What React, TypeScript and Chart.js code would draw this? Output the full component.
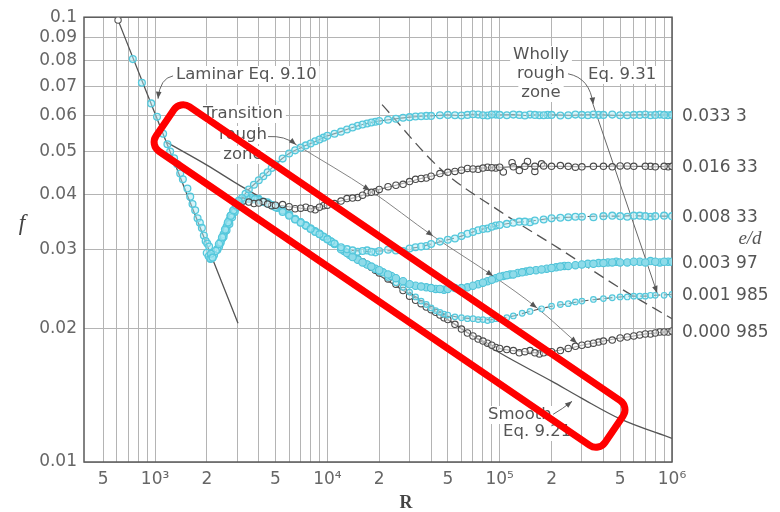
import React, { useEffect, useRef } from 'react';
import { Chart, registerables } from 'chart.js';

Chart.register(...registerables);

// ---------- axes ----------
const xTickValues = [500, 600, 700, 800, 900, 1000, 2000, 3000, 4000, 5000, 6000, 7000, 8000, 9000, 10000, 20000, 30000, 40000, 50000, 60000, 70000, 80000, 90000, 100000, 200000, 300000, 400000, 500000, 600000, 700000, 800000, 900000, 1000000];
const xTickLabels = ['5', '', '', '', '', '10³', '2', '', '', '5', '', '', '', '', '10⁴', '2', '', '', '5', '', '', '', '', '10⁵', '2', '', '', '5', '', '', '', '', '10⁶'];
const yTickValues = [0.01, 0.02, 0.03, 0.04, 0.05, 0.06, 0.07, 0.08, 0.09, 0.1];
const yTickLabels = ['0.01', '0.02', '0.03', '0.04', '0.05', '0.06', '0.07', '0.08', '0.09', '0.1'];
const edLabels = ['0.033 3', '0.016 33', '0.008 33', '0.003 97', '0.001 985', '0.000 985'];

// ---------- lines ----------
const lamLineR = [610, 3030];
const lamLineF = [0.0985, 0.0205];
const smoothR = [1150, 2000, 3000, 5000, 10000, 20000, 30000, 50000, 100000, 200000, 300000, 500000, 1000000];
const smoothF = [0.0525, 0.0465, 0.0422, 0.0376, 0.0316, 0.0263, 0.0238, 0.0209, 0.0176, 0.0152, 0.0139, 0.0125, 0.0113];
const bndR = [6580, 17700, 41070, 91600, 164800, 281000];
const bndF = [0.0517, 0.0408, 0.0322, 0.0262, 0.0222, 0.0185];
const dashR = [20770, 45080, 100500, 224100, 499700, 1000000];
const dashF = [0.0636, 0.0457, 0.0366, 0.0301, 0.0246, 0.021];
const eq931R = [348600, 819600];
const eq931F = [0.0636, 0.024];

// ---------- data points ----------
const lamR = [743, 839, 950, 1027, 1114, 1180, 1224, 1290, 1346, 1400, 1450, 1541, 1600, 1650, 1710, 1765, 1820, 1870, 1920, 1966, 2010, 2060, 2110, 2161];
const lamF = [0.0805, 0.0712, 0.064, 0.0597, 0.0547, 0.0518, 0.0499, 0.0482, 0.0467, 0.0445, 0.0432, 0.0412, 0.0395, 0.038, 0.0368, 0.0353, 0.0345, 0.0336, 0.0323, 0.0314, 0.031, 0.0305, 0.0294, 0.0288];
const transR = [2000, 2050, 2100, 2150, 2250, 2350, 2450, 2550, 2650, 2750, 2850, 2950, 3050];
const transF = [0.0295, 0.029, 0.0287, 0.0289, 0.0298, 0.0309, 0.032, 0.0333, 0.0346, 0.0358, 0.0368, 0.0378, 0.0386];

const aR = [2200, 2400, 2600, 2800, 3000, 3200, 3500, 4000, 4500, 5000, 6000, 7000, 8000, 9000, 10000, 12000, 14000, 16000, 18000, 20000, 25000, 30000, 35000, 40000, 50000, 60000, 70000, 80000, 90000, 100000, 120000, 140000, 160000, 180000, 200000, 250000, 300000, 350000, 400000, 500000, 600000, 700000, 800000, 900000, 1000000];
const aF = [0.0292, 0.0311, 0.0332, 0.0355, 0.0374, 0.0392, 0.041, 0.043, 0.0448, 0.0467, 0.0494, 0.0509, 0.052, 0.0531, 0.0541, 0.0553, 0.0565, 0.0574, 0.058, 0.0584, 0.0591, 0.0596, 0.0599, 0.06, 0.0603, 0.0601, 0.0605, 0.0602, 0.0604, 0.0603, 0.0604, 0.0601, 0.0603, 0.0602, 0.0603, 0.0602, 0.0603, 0.0604, 0.0603, 0.0602, 0.0603, 0.0604, 0.0603, 0.0603, 0.0603];
const aExtraR = [2100, 2300, 2500, 2700, 2900, 3100, 3350, 3750, 4250, 4750, 5500, 6500, 7500, 8500, 9500, 11000, 13000, 15000, 17000, 19000, 22500, 27500, 32500, 37500, 45000, 55000, 65000, 75000, 85000, 95000, 110000, 130000, 150000, 170000, 190000, 225000, 275000, 325000, 375000, 450000, 550000, 650000, 750000, 850000, 950000];
const aExtraF = [0.0286, 0.0301, 0.0321, 0.0343, 0.0365, 0.0383, 0.0401, 0.042, 0.0439, 0.0458, 0.0481, 0.0502, 0.0515, 0.0526, 0.0536, 0.0547, 0.0559, 0.057, 0.0577, 0.0582, 0.0588, 0.0594, 0.0598, 0.06, 0.0602, 0.0602, 0.0603, 0.0604, 0.0601, 0.0604, 0.0602, 0.0603, 0.0604, 0.0602, 0.0603, 0.0601, 0.0604, 0.0602, 0.0603, 0.0604, 0.0602, 0.0603, 0.0602, 0.0604, 0.0602];

const bR = [3000, 3500, 4000, 4500, 5000, 6000, 7000, 8000, 9000, 10000, 12000, 14000, 16000, 18000, 20000, 25000, 30000, 35000, 40000, 50000, 60000, 70000, 80000, 90000, 100000, 120000, 140000, 160000, 180000, 200000, 250000, 300000, 350000, 400000, 500000, 600000, 700000, 800000, 900000, 1000000];
const bF = [0.0382, 0.0384, 0.0382, 0.038, 0.0378, 0.0375, 0.0372, 0.0371, 0.0374, 0.0378, 0.0386, 0.0392, 0.0398, 0.0404, 0.041, 0.0419, 0.0427, 0.0434, 0.0439, 0.0448, 0.0453, 0.0456, 0.0458, 0.0459, 0.046, 0.0461, 0.0462, 0.0462, 0.0463, 0.0462, 0.0462, 0.0461, 0.0462, 0.0462, 0.0463, 0.0462, 0.0462, 0.0461, 0.0462, 0.0462];
const bExtraR = [3250, 3750, 4250, 4750, 5500, 6500, 7500, 8500, 9500, 11000, 13000, 15000, 17000, 19000, 22500, 27500, 32500, 37500, 45000, 55000, 65000, 75000, 85000, 95000, 105000, 118000, 130000, 145000, 160000, 175000, 225000, 275000, 450000, 550000, 750000, 950000];
const bExtraF = [0.0386, 0.0381, 0.0385, 0.0377, 0.0379, 0.0371, 0.0374, 0.0369, 0.0377, 0.0381, 0.0391, 0.0393, 0.0403, 0.0405, 0.0416, 0.0421, 0.0432, 0.0435, 0.0445, 0.045, 0.0457, 0.0455, 0.046, 0.0458, 0.0449, 0.0471, 0.0452, 0.0474, 0.045, 0.0468, 0.0464, 0.046, 0.0461, 0.0463, 0.0462, 0.0461];

const cR = [2300, 2500, 2700, 2900, 3100, 3400, 3800, 4200, 5000, 5500, 6000, 7000, 8000, 9000, 10000, 11000, 12000, 14000, 16000, 18000, 20000, 25000, 30000, 35000, 40000, 50000, 60000, 70000, 80000, 90000, 100000, 120000, 140000, 160000, 200000, 250000, 300000, 400000, 500000, 600000, 700000, 800000, 1000000];
const cF = [0.03, 0.0325, 0.035, 0.0368, 0.0383, 0.0392, 0.039, 0.0385, 0.0374, 0.0365, 0.0358, 0.0345, 0.0334, 0.0325, 0.0317, 0.031, 0.0304, 0.0299, 0.0298, 0.0297, 0.0298, 0.0299, 0.0302, 0.0305, 0.0309, 0.0316, 0.0322, 0.0329, 0.0334, 0.0338, 0.0341, 0.0345, 0.0347, 0.0349, 0.0353, 0.0355, 0.0356, 0.0357, 0.0357, 0.0358, 0.0357, 0.0357, 0.0357];
const cExtraR = [2400, 2600, 2800, 3250, 3600, 4600, 6500, 7500, 8500, 9500, 10500, 13000, 15000, 17000, 19000, 22500, 27500, 32500, 37500, 45000, 55000, 65000, 75000, 85000, 95000, 110000, 130000, 150000, 180000, 225000, 275000, 350000, 450000, 550000, 650000, 750000, 900000];
const cExtraF = [0.0312, 0.0338, 0.036, 0.0389, 0.0393, 0.038, 0.0351, 0.034, 0.0329, 0.0321, 0.0313, 0.0301, 0.0297, 0.0299, 0.0296, 0.03, 0.0298, 0.0304, 0.0306, 0.0313, 0.0318, 0.0326, 0.0332, 0.0335, 0.034, 0.0343, 0.0347, 0.0346, 0.0351, 0.0354, 0.0356, 0.0355, 0.0358, 0.0356, 0.0358, 0.0356, 0.0358];

const dR = [2350, 2550, 2750, 3000, 3300, 3700, 4300, 4800, 5500, 6500, 7500, 8500, 9500, 10500, 12000, 13000, 14000, 16000, 18000, 20000, 22500, 25000, 30000, 35000, 40000, 45000, 50000, 60000, 70000, 80000, 90000, 100000, 110000, 120000, 135000, 150000, 175000, 200000, 225000, 250000, 300000, 350000, 400000, 450000, 500000, 600000, 700000, 800000, 900000, 1000000];
const dF = [0.0305, 0.033, 0.0358, 0.0378, 0.0388, 0.039, 0.0384, 0.0378, 0.0368, 0.0352, 0.034, 0.033, 0.0321, 0.0313, 0.0301, 0.0295, 0.0289, 0.0281, 0.0275, 0.027, 0.0264, 0.0259, 0.0251, 0.0248, 0.0246, 0.0245, 0.0245, 0.0246, 0.0249, 0.0253, 0.0257, 0.0261, 0.0263, 0.0264, 0.0267, 0.0269, 0.0271, 0.0273, 0.0275, 0.0276, 0.0278, 0.0279, 0.028, 0.0281, 0.0281, 0.0282, 0.0281, 0.0282, 0.0282, 0.0282];
const dExtraR = [2450, 2650, 2850, 3150, 3500, 4000, 4550, 5100, 6000, 7000, 8000, 9000, 10000, 11000, 12500, 13500, 15000, 17000, 19000, 21000, 23500, 27500, 32500, 37500, 42500, 47500, 55000, 65000, 75000, 85000, 95000, 105000, 115000, 127500, 142500, 162500, 187500, 212500, 237500, 275000, 325000, 375000, 425000, 475000, 550000, 650000, 750000, 850000, 950000];
const dExtraF = [0.0318, 0.0344, 0.0367, 0.0384, 0.039, 0.0388, 0.0381, 0.0373, 0.036, 0.0346, 0.0335, 0.0326, 0.0317, 0.0309, 0.0298, 0.0292, 0.0285, 0.0278, 0.0272, 0.0267, 0.0262, 0.0255, 0.0249, 0.0247, 0.0245, 0.0244, 0.0246, 0.0247, 0.0251, 0.0255, 0.0259, 0.0262, 0.0264, 0.0266, 0.0268, 0.027, 0.0272, 0.0274, 0.0276, 0.0277, 0.0279, 0.028, 0.0281, 0.0282, 0.0281, 0.0282, 0.0283, 0.0281, 0.0282];

const eR = [2450, 2650, 3100, 3600, 4000, 5000, 6000, 7000, 8000, 10000, 12000, 14000, 16000, 18000, 20000, 25000, 30000, 35000, 40000, 45000, 50000, 60000, 70000, 80000, 90000, 100000, 120000, 150000, 200000, 250000, 300000, 400000, 500000, 600000, 700000, 800000, 1000000];
const eF = [0.0318, 0.0342, 0.038, 0.0392, 0.0392, 0.0376, 0.036, 0.0347, 0.0335, 0.0317, 0.0302, 0.0291, 0.0282, 0.0275, 0.0268, 0.0253, 0.0241, 0.023, 0.0222, 0.0217, 0.0214, 0.0211, 0.021, 0.0209, 0.0209, 0.021, 0.0213, 0.0218, 0.0224, 0.0227, 0.023, 0.0233, 0.0235, 0.0236, 0.0236, 0.0237, 0.0238];
const eExtraR = [2550, 2850, 3350, 4500, 5500, 6500, 7500, 9000, 11000, 13000, 15000, 17000, 19000, 22500, 27500, 32500, 37500, 42500, 47500, 55000, 65000, 75000, 85000, 95000, 110000, 135000, 175000, 225000, 275000, 350000, 450000, 550000, 650000, 750000, 900000];
const eExtraF = [0.033, 0.0362, 0.0388, 0.0385, 0.0367, 0.0353, 0.0341, 0.0326, 0.031, 0.0296, 0.0286, 0.0278, 0.0271, 0.026, 0.0247, 0.0235, 0.0226, 0.0219, 0.0215, 0.0212, 0.021, 0.0209, 0.0208, 0.021, 0.0211, 0.0216, 0.0221, 0.0226, 0.0229, 0.0232, 0.0234, 0.0235, 0.0236, 0.0237, 0.0237];

const fR = [14000, 16000, 18000, 20000, 25000, 30000, 35000, 40000, 45000, 50000, 60000, 70000, 80000, 90000, 100000, 120000, 140000, 160000, 180000, 200000, 250000, 300000, 350000, 400000, 500000, 600000, 700000, 800000, 900000, 1000000];
const fF = [0.029, 0.0282, 0.0274, 0.0266, 0.0251, 0.0236, 0.0227, 0.022, 0.0214, 0.0209, 0.0199, 0.0192, 0.0187, 0.0183, 0.018, 0.0178, 0.0177, 0.0176, 0.0176, 0.0177, 0.018, 0.0183, 0.0185, 0.0187, 0.019, 0.0192, 0.0194, 0.0195, 0.0196, 0.0197];
const fExtraR = [15000, 17000, 19000, 22500, 27500, 32500, 37500, 42500, 47500, 55000, 65000, 75000, 85000, 95000, 110000, 130000, 150000, 170000, 190000, 225000, 275000, 325000, 375000, 450000, 550000, 650000, 750000, 850000, 950000];
const fExtraF = [0.0286, 0.0278, 0.027, 0.0258, 0.0243, 0.0231, 0.0223, 0.0217, 0.0211, 0.0204, 0.0195, 0.0189, 0.0185, 0.0181, 0.0179, 0.0176, 0.0178, 0.0175, 0.0177, 0.0178, 0.0182, 0.0184, 0.0186, 0.0188, 0.0191, 0.0193, 0.0194, 0.0196, 0.0196];

// ---------- annotation anchors (data units) ----------
const lamLeaderR = [1272, 1069, 1041];
const lamLeaderF = [0.0738, 0.073, 0.0656];
const trLeaderR = [4528, 5682, 6580];
const trLeaderF = [0.0539, 0.0542, 0.0517];
const wrLeaderR = [249400, 334700, 348600];
const wrLeaderF = [0.0746, 0.073, 0.0636];
const smLeaderR = [204200, 230000, 263000];
const smLeaderF = [0.0128, 0.01314, 0.01369];
const boxR = [1143, 461000];
const boxF = [0.0579, 0.01185];

const CYAN = '#55c8dc';
const CYAN_FILL = 'rgba(175,234,244,0.5)';
const DARK = '#4a4a4a';
const DARK_FILL = 'rgba(255,255,255,0.5)';
const GRID = '#b4b4b4';
const TXT = '#555';
const LABEL_FONT = '16.5px "DejaVu Sans"';

const plotTexts = [
  { text: 'Laminar Eq. 9.10', x: 176, y: 75, align: 'left' },
  { text: 'Transition', x: 243, y: 114, align: 'center' },
  { text: 'rough', x: 243, y: 135, align: 'center' },
  { text: 'zone', x: 243, y: 155, align: 'center' },
  { text: 'Wholly', x: 541, y: 55, align: 'center' },
  { text: 'rough', x: 541, y: 74, align: 'center' },
  { text: 'zone', x: 541, y: 93, align: 'center' },
  { text: 'Eq. 9.31', x: 588, y: 75, align: 'left' },
  { text: 'Smooth', x: 488, y: 415, align: 'left' },
  { text: 'Eq. 9.21', x: 503, y: 432, align: 'left' },
];

function arrowHead(ctx: CanvasRenderingContext2D, x0: number, y0: number, x1: number, y1: number, len = 7, half = 2.8) {
  const a = Math.atan2(y1 - y0, x1 - x0);
  ctx.beginPath();
  ctx.moveTo(x1, y1);
  ctx.lineTo(x1 - len * Math.cos(a) + half * Math.sin(a), y1 - len * Math.sin(a) - half * Math.cos(a));
  ctx.lineTo(x1 - len * Math.cos(a) - half * Math.sin(a), y1 - len * Math.sin(a) + half * Math.cos(a));
  ctx.closePath();
  ctx.fill();
}

function roundRectPath(ctx: CanvasRenderingContext2D, x: number, y: number, w: number, h: number, r: number) {
  ctx.beginPath();
  ctx.moveTo(x + r, y);
  ctx.lineTo(x + w - r, y);
  ctx.arcTo(x + w, y, x + w, y + r, r);
  ctx.lineTo(x + w, y + h - r);
  ctx.arcTo(x + w, y + h, x + w - r, y + h, r);
  ctx.lineTo(x + r, y + h);
  ctx.arcTo(x, y + h, x, y + h - r, r);
  ctx.lineTo(x, y + r);
  ctx.arcTo(x, y, x + r, y, r);
  ctx.closePath();
}

const annot = {
  id: 'annot',
  beforeDatasetsDraw(chart: any) {
    const { ctx, chartArea: a } = chart;
    ctx.save();
    ctx.font = LABEL_FONT;
    ctx.fillStyle = '#fff';
    for (const t of plotTexts) {
      const w = ctx.measureText(t.text).width;
      const x0 = t.align === 'center' ? t.x - w / 2 : t.x;
      ctx.fillRect(x0 - 3, t.y - 9, w + 6, 18);
    }
    ctx.strokeStyle = '#5a5a5a';
    ctx.lineWidth = 1.5;
    ctx.strokeRect(a.left, a.top, a.right - a.left, a.bottom - a.top);
    ctx.restore();
  },
  afterDatasetsDraw(chart: any) {
    const { ctx } = chart;
    const xs = chart.scales.x;
    const ys = chart.scales.y;
    const px = (r: number) => xs.getPixelForValue(r);
    const py = (f: number) => ys.getPixelForValue(f);
    ctx.save();
    ctx.font = LABEL_FONT;
    ctx.fillStyle = TXT;
    ctx.textBaseline = 'middle';
    for (const t of plotTexts) {
      ctx.textAlign = t.align as CanvasTextAlign;
      ctx.fillText(t.text, t.x, t.y);
    }
    ctx.strokeStyle = '#666';
    ctx.fillStyle = '#555';
    ctx.lineWidth = 1;
    const leaders = [
      [lamLeaderR, lamLeaderF],
      [trLeaderR, trLeaderF],
      [wrLeaderR, wrLeaderF],
      [smLeaderR, smLeaderF],
    ];
    for (const [R, F] of leaders) {
      const x0 = px(R[0]), y0 = py(F[0]);
      const cx = px(R[1]), cy = py(F[1]);
      const x1 = px(R[2]), y1 = py(F[2]);
      ctx.beginPath();
      ctx.moveTo(x0, y0);
      ctx.quadraticCurveTo(cx, cy, x1, y1);
      ctx.stroke();
      arrowHead(ctx, cx, cy, x1, y1);
    }
    for (let i = 1; i < bndR.length; i++) {
      arrowHead(ctx, px(bndR[i - 1]), py(bndF[i - 1]), px(bndR[i]), py(bndF[i]));
    }
    arrowHead(ctx, px(eq931R[0]), py(eq931F[0]), px(eq931R[1]), py(eq931F[1]));

    ctx.font = '17px "DejaVu Sans"';
    ctx.fillStyle = TXT;
    ctx.textAlign = 'left';
    const ends = [aF, bF, cF, dF, eF, fF].map((arr) => arr[arr.length - 1]);
    ends.forEach((f, i) => ctx.fillText(edLabels[i], 682, py(f) + 1.5));
    ctx.font = 'italic 19px "Liberation Serif"';
    ctx.textAlign = 'center';
    ctx.fillText('e/d', 750, 239);
    ctx.font = 'italic 23px "Liberation Serif"';
    ctx.fillStyle = '#444';
    ctx.fillText('f', 22, 224);
    ctx.font = 'bold 18px "Liberation Serif"';
    ctx.fillText('R', 406, 503);
    ctx.restore();
  },
  afterDraw(chart: any) {
    const { ctx } = chart;
    const xs = chart.scales.x;
    const ys = chart.scales.y;
    const x1 = xs.getPixelForValue(boxR[0]);
    const y1 = ys.getPixelForValue(boxF[0]);
    const x2 = xs.getPixelForValue(boxR[1]);
    const y2 = ys.getPixelForValue(boxF[1]);
    const L = Math.hypot(x2 - x1, y2 - y1);
    const ang = Math.atan2(y2 - y1, x2 - x1);
    ctx.save();
    ctx.translate(x1, y1);
    ctx.rotate(ang);
    roundRectPath(ctx, 0, -27, L, 54, 11);
    ctx.lineWidth = 7;
    ctx.strokeStyle = '#ff0000';
    ctx.stroke();
    ctx.restore();
  },
};

export default function App() {
  const ref = useRef<HTMLCanvasElement | null>(null);

  useEffect(() => {
    const canvas = ref.current;
    if (!canvas) return;
    const P = (R: number[], F: number[]) => R.map((r, i) => ({ x: r, y: F[i] }));
    const from = (R: number[], F: number[], minR: number) => P(R.filter((r) => r >= minR), F.filter((_, i) => R[i] >= minR));
    const line = (data: any[], extra: any = {}) => ({
      data,
      showLine: true,
      borderColor: '#555',
      borderWidth: 1.1,
      pointRadius: 0,
      pointHoverRadius: 0,
      cubicInterpolationMode: 'monotone',
      order: 3,
      ...extra,
    });
    const marks = (data: any[], stroke: string, fill: string, r = 3.2, bw = 1.1) => ({
      data,
      showLine: false,
      pointRadius: r,
      pointHoverRadius: r,
      pointBorderColor: stroke,
      pointBackgroundColor: fill,
      pointBorderWidth: bw,
      order: 1,
    });

    const datasets: any[] = [
      line(P(lamLineR, lamLineF), { pointRadius: [3.2, 0], pointBorderColor: '#555', pointBackgroundColor: '#fff', pointBorderWidth: 1.1, borderWidth: 1.3, order: 2 }),
      line(P(smoothR, smoothF), { borderWidth: 1.3 }),
      line(P(bndR, bndF), { borderColor: '#777', borderWidth: 0.9 }),
      line(P(dashR, dashF), { borderDash: [11, 6], borderWidth: 1.3 }),
      line(P(eq931R, eq931F), { borderColor: '#666', borderWidth: 1, cubicInterpolationMode: 'default' }),
      line(P(aR, aF)),
      line(P(bR, bF)),
      line(from(cR, cF, 9000), { borderDash: [8, 4] }),
      line(from(dR, dF, 13000), { borderDash: [8, 4] }),
      line(from(eR, eF, 28000), { borderDash: [8, 4] }),
      line(from(fR, fF, 45000)),
      marks(P(lamR, lamF), CYAN, CYAN_FILL, 3.4, 1.3),
      marks(P(transR, transF), CYAN, CYAN_FILL, 3.6, 1.3),
      marks(P(aR, aF), CYAN, CYAN_FILL, 3.4, 1.3),
      marks(P(aExtraR, aExtraF), CYAN, CYAN_FILL, 3.4, 1.3),
      marks(P(bR, bF), DARK, DARK_FILL),
      marks(P(bExtraR, bExtraF), DARK, DARK_FILL),
      marks(P(cR, cF), CYAN, CYAN_FILL, 3.4, 1.3),
      marks(P(cExtraR, cExtraF), CYAN, CYAN_FILL, 3.4, 1.3),
      marks(P(dR, dF), '#4fc4d9', '#8edbe9', 3.7),
      marks(P(dExtraR, dExtraF), '#4fc4d9', '#8edbe9', 3.7),
      marks(P(eR, eF), CYAN, CYAN_FILL, 2.8, 1.2),
      marks(P(eExtraR, eExtraF), CYAN, CYAN_FILL, 2.8, 1.2),
      marks(P(fR, fF), DARK, DARK_FILL),
      marks(P(fExtraR, fExtraF), DARK, DARK_FILL),
    ];

    const tickFont = { family: 'DejaVu Sans', size: 17 };
    const chart = new Chart(canvas, {
      type: 'scatter',
      data: { datasets },
      options: {
        responsive: false,
        animation: false,
        devicePixelRatio: 1,
        events: [],
        layout: { padding: { left: 0, right: 108, top: 15, bottom: 0 } },
        plugins: { legend: { display: false }, tooltip: { enabled: false } },
        scales: {
          x: {
            type: 'logarithmic',
            min: 387,
            max: 1000000,
            afterBuildTicks: (s: any) => {
              s.ticks = xTickValues.map((v) => ({ value: v }));
            },
            afterFit: (s: any) => {
              s.height = 50;
            },
            grid: { color: GRID, lineWidth: 1, drawTicks: false },
            border: { display: false },
            ticks: {
              autoSkip: false,
              maxRotation: 0,
              minRotation: 0,
              padding: 7,
              color: '#666',
              font: tickFont,
              callback: (_v: any, i: number) => xTickLabels[i],
            },
          },
          y: {
            type: 'logarithmic',
            min: 0.01,
            max: 0.1,
            afterBuildTicks: (s: any) => {
              s.ticks = yTickValues.map((v) => ({ value: v }));
            },
            afterFit: (s: any) => {
              s.width = 84;
            },
            grid: { color: GRID, lineWidth: 1, drawTicks: false },
            border: { display: false },
            ticks: {
              autoSkip: false,
              padding: 7,
              color: '#666',
              font: tickFont,
              callback: (_v: any, i: number) => yTickLabels[i],
            },
          },
        },
      } as any,
      plugins: [annot],
    });
    return () => chart.destroy();
  }, []);

  return (
    <div style={{ position: 'fixed', left: 0, top: 0, width: 780, height: 512, background: '#fff' }}>
      <canvas ref={ref} width={780} height={512} style={{ display: 'block' }} />
    </div>
  );
}
